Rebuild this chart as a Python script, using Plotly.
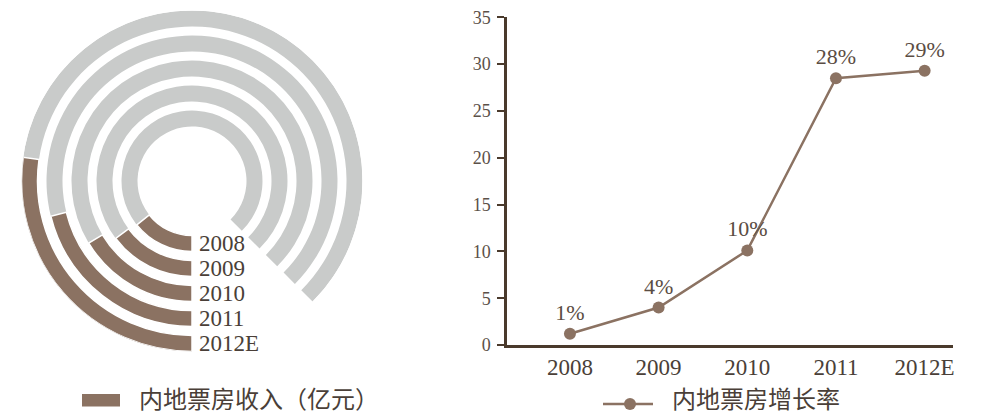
import plotly.graph_objects as go

# ---- data ----
years = ["2008", "2009", "2010", "2011", "2012E"]
# brown arc sweep of each ring (degrees), on a 315-degree track
revenue_arc = [51.5, 53.0, 59.0, 76.0, 98.0]
track_arc = 315.0
growth = [1.2, 4.0, 10.1, 28.5, 29.3]
growth_labels = ["1%", "4%", "10%", "28%", "29%"]
y_ticks = [0, 5, 10, 15, 20, 25, 30, 35]

revenue_name = "内地票房收入（亿元）"
growth_name = "内地票房增长率"

BROWN = "#8b7262"
GRAY = "#c9cbca"
AXIS = "#4a3a2c"
TEXT = "#4a3f38"
SERIF = "Liberation Serif"
CJK = "Noto Sans CJK SC"

W, H = 1000, 417
cx, cy, R = 192, 181, 170.5
ring_w = 16
pitch = 25
n = len(years)
outer = [R - pitch * (n - 1 - i) for i in range(n)]
inner = [o - ring_w for o in outer]


def px(x):
    return x / W


def py(y):
    return 1 - y / H


fig = go.Figure()

# gray track
fig.add_trace(go.Barpolar(
    r=[ring_w] * n, base=inner,
    theta=[track_arc / 2] * n, width=[track_arc] * n,
    marker=dict(color=GRAY, line=dict(width=0)),
    showlegend=False, hoverinfo="skip", subplot="polar",
))
# brown revenue arcs
fig.add_trace(go.Barpolar(
    r=[ring_w] * n, base=inner,
    theta=[v / 2 for v in revenue_arc], width=revenue_arc,
    marker=dict(color=BROWN, line=dict(width=1.5, color="white")),
    name=revenue_name, showlegend=False, subplot="polar",
    customdata=years, hovertemplate="%{customdata}<extra></extra>",
))

# growth line
fig.add_trace(go.Scatter(
    x=years, y=growth, mode="lines+markers+text",
    text=growth_labels, textposition="top center",
    textfont=dict(family=SERIF, size=22, color="#5b4d43"),
    line=dict(color=BROWN, width=2.5),
    marker=dict(color=BROWN, size=12),
    name=growth_name, showlegend=False, xaxis="x", yaxis="y",
    cliponaxis=False,
))

# ring year labels
for i, yr in enumerate(years):
    yc = cy + outer[i] - ring_w / 2
    fig.add_annotation(
        x=px(197), y=py(yc), xref="paper", yref="paper",
        text=yr, showarrow=False, xanchor="left", yanchor="middle",
        font=dict(family=SERIF, size=23, color=TEXT),
    )

# small tick below origin
fig.add_shape(type="line", xref="x domain", yref="y", x0=0, x1=0, y0=0, y1=-0.75,
              line=dict(color=AXIS, width=2.5))

# legend keys (drawn manually to match the reference layout)
fig.add_shape(type="rect", xref="paper", yref="paper",
              x0=px(82), x1=px(120), y0=py(406.5), y1=py(394),
              fillcolor=BROWN, line=dict(width=0))
fig.add_annotation(x=px(137), y=0, xref="paper", yref="paper",
                   text=revenue_name, showarrow=False, xanchor="left", yanchor="bottom",
                   font=dict(family=CJK, size=24, color=TEXT))
fig.add_shape(type="line", xref="paper", yref="paper",
              x0=px(603), x1=px(653), y0=py(404), y1=py(404),
              line=dict(color=BROWN, width=2.5))
fig.add_shape(type="circle", xref="paper", yref="paper",
              x0=px(624), x1=px(636), y0=py(410), y1=py(398),
              fillcolor=BROWN, line=dict(width=0))
fig.add_annotation(x=px(670), y=0, xref="paper", yref="paper",
                   text=growth_name, showarrow=False, xanchor="left", yanchor="bottom",
                   font=dict(family=CJK, size=24, color=TEXT))

fig.update_layout(
    width=W, height=H,
    margin=dict(l=0, r=0, t=0, b=0, pad=0, autoexpand=False),
    paper_bgcolor="white", plot_bgcolor="white",
    showlegend=False,
    polar=dict(
        domain=dict(x=[px(cx - R), px(cx + R)], y=[py(cy + R), py(cy - R)]),
        bgcolor="rgba(0,0,0,0)",
        radialaxis=dict(visible=False, range=[0, R]),
        angularaxis=dict(visible=False, direction="clockwise", rotation=270),
        hole=0,
    ),
    xaxis=dict(
        domain=[px(507), px(953)], type="category", range=[-0.71, 4.32],
        showline=True, linecolor=AXIS, linewidth=2.5, ticks="", showgrid=False,
        zeroline=False, tickfont=dict(family=SERIF, size=23, color=TEXT),
        ticklabelstandoff=0, automargin=False,
    ),
    yaxis=dict(
        domain=[py(345), py(17.3)], range=[0, 35], tickvals=y_ticks,
        showline=True, linecolor=AXIS, linewidth=2.5, ticks="outside", ticklen=7,
        tickwidth=1.5, tickcolor=AXIS, showgrid=False, zeroline=False,
        tickfont=dict(family=SERIF, size=18, color="#5b5048"),
        ticklabelstandoff=3, automargin=False,
    ),
)

fig.write_html("out.html")
